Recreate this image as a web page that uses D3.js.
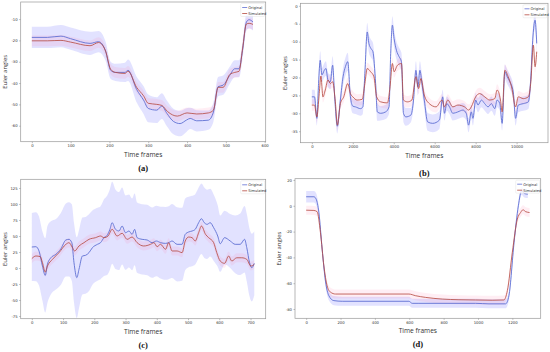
<!DOCTYPE html>
<html>
<head>
<meta charset="utf-8">
<script src="https://cdn.jsdelivr.net/npm/d3@7"></script>
<style>
  body { margin: 0; background: #fff; }
  svg { display: block; }
</style>
</head>
<body>
<svg id="chart" width="550" height="352"></svg>
<script>
// ---------------- data ----------------
const seriesNames = ["Original", "Simulated"];

// (a)
const aOrigFrames = [0, 40, 75, 100, 150, 172, 190, 203, 215, 240, 248, 270, 288, 300, 322, 335, 348, 365, 382, 399, 408, 425, 455, 468, 480, 493, 510, 523, 534, 543, 553, 560, 570];
const aOrig = [-18.6, -18.6, -18, -19.2, -21.4, -20.6, -25, -34, -35, -35, -34, -43, -48, -51.9, -52.7, -50.8, -54.2, -58, -59, -57.3, -56.6, -57.7, -57.4, -53.6, -41.7, -41, -36.4, -33.3, -33.3, -24.7, -11.4, -10.3, -11.4];
const aOrigStd = [5, 5, 5.2, 5.2, 5.4, 5, 4.5, 4, 4, 4.5, 5, 6, 6.5, 6.5, 6, 6, 6, 6, 6, 5.5, 5, 5, 4.5, 4.5, 4.5, 4.5, 4, 4, 4, 4, 4, 4, 4];
const aSimFrames = [0, 40, 75, 100, 150, 172, 190, 203, 215, 240, 248, 270, 288, 300, 322, 335, 350, 375, 400, 425, 455, 468, 480, 493, 510, 523, 534, 543, 553, 560, 570];
const aSim = [-20.2, -20.2, -20, -20.8, -22.5, -21, -25, -33.5, -35, -35.5, -34.5, -42, -46, -49.5, -50, -50.5, -53.4, -55.5, -54, -54.5, -54, -52.7, -42, -42, -36, -35, -34.5, -24, -12.3, -12, -12.5];
const aSimStd = [2.5, 2.5, 2.5, 2.5, 2.5, 2.5, 2.5, 2.5, 2.5, 2.5, 2.5, 2.5, 2.5, 2.5, 2.5, 2.5, 2.5, 2.5, 2.5, 2.5, 2.5, 2.5, 2.5, 2.5, 2.5, 2.5, 2.5, 2.5, 2.5, 2.5, 2.5];
const aXTicks = [0, 100, 200, 300, 400, 500, 600];
const aYTicks = [-60, -50, -40, -30, -20, -10];

// (b)
const bOrigFrames = [0, 131, 246, 328, 410, 492, 607, 689, 787, 902, 1016, 1115, 1246, 1393, 1525, 1639, 1754, 1885, 2000, 2131, 2377, 2492, 2590, 2705, 2787, 2885, 2984, 3115, 3197, 3361, 3607, 3770, 3852, 3934, 4016, 4131, 4262, 4377, 4475, 4590, 4836, 4967, 5082, 5180, 5279, 5377, 5492, 5656, 5902, 6230, 6393, 6475, 6590, 6721, 6885, 7131, 7377, 7541, 7656, 7787, 7869, 8000, 8115, 8279, 8443, 8607, 8770, 8934, 9049, 9180, 9295, 9426, 9541, 9672, 9836, 9951, 10082, 10328, 10574, 10689, 10787, 10902, 10984];
const bOrig = [-25.4, -25.4, -31.4, -21.7, -15.2, -19.3, -18, -17.5, -20.7, -21.2, -16.6, -25.4, -33.6, -26.3, -19.8, -17, -15.6, -25.4, -28, -28.2, -28.7, -28.2, -18.9, -7.3, -10.5, -11.9, -12.8, -21.7, -29.6, -30, -29.6, -28.2, -13.3, -5.4, -9.1, -12.4, -14.2, -15.6, -30, -31, -30.5, -26.3, -18, -22.6, -18, -21.7, -26.3, -32.4, -32.8, -31.9, -25.4, -30, -27.3, -28.2, -30, -29.6, -29.1, -30, -33.3, -29.6, -31.4, -26.3, -27.7, -26.3, -27.3, -28.2, -27.3, -28.7, -26.3, -27.3, -32.8, -18.4, -19.8, -21.2, -24, -31.4, -27.7, -27.3, -26.8, -20.7, -9.6, -4, -10.5];
const bOrigStd = [2, 2, 2, 2.5, 2.5, 2, 2, 2, 2, 2, 2.5, 2, 2, 2, 2.5, 2.5, 2.5, 2, 2, 2, 2, 2, 2.5, 2.5, 2.5, 2.5, 2.5, 2.5, 2.5, 2, 2, 2, 2.5, 2.5, 2.5, 2.5, 2.5, 2.5, 2.5, 2.5, 2, 2, 2.5, 2.5, 2.5, 2.5, 2.5, 2.5, 2.5, 2.5, 2, 2, 2, 2, 2, 2, 2, 2, 2, 2, 2, 2, 2, 2, 2, 2, 2, 2, 2, 2, 2, 2, 2, 2, 2, 2, 2, 2, 2, 2.5, 2.5, 2.5, 2.5];
const bSimFrames = [0, 131, 246, 361, 443, 541, 656, 787, 902, 1016, 1148, 1246, 1393, 1557, 1754, 1885, 2000, 2213, 2459, 2590, 2705, 2869, 3033, 3164, 3361, 3689, 3820, 3934, 4016, 4180, 4377, 4475, 4672, 4885, 5082, 5213, 5328, 5492, 5738, 6066, 6361, 6475, 6639, 6885, 7131, 7459, 7656, 7787, 8000, 8197, 8443, 8689, 8934, 9049, 9213, 9295, 9426, 9590, 9754, 9951, 10082, 10328, 10574, 10689, 10820, 10902, 10984];
const bSim = [-27.7, -27.7, -31, -24.5, -19.6, -25.4, -23.5, -20.7, -21.7, -21.2, -26.8, -33.3, -27.3, -25.4, -21.7, -24.5, -25.4, -26.3, -26.1, -21.7, -17.5, -18.4, -19.8, -25.4, -26.8, -27.1, -22.6, -16.1, -18.4, -16.6, -16.1, -26.3, -26.8, -26.3, -19.8, -23.1, -20.3, -24.9, -27.3, -28.2, -26.3, -28.2, -26.3, -28.2, -27.7, -28.2, -29.1, -28.2, -25.4, -24.5, -25.4, -26.3, -25.9, -23.5, -26.3, -29.6, -18, -19.8, -22.6, -28.2, -25.4, -25.9, -25.4, -21.7, -11, -17, -12.8];
const bSimStd = bSim.map(() => 1.6);
const bXTicks = [0, 2000, 4000, 6000, 8000, 10000];
const bYTicks = [-35, -30, -25, -20, -15, -10, -5, 0];

// (c)
const cOrigFrames = [0, 13, 23, 34, 43, 50, 61, 77, 93, 109, 119, 128, 135, 144, 151, 162, 172, 183, 194, 210, 220, 231, 241, 250, 257, 268, 279, 289, 300, 311, 321, 329, 337, 353, 369, 385, 399, 412, 428, 438, 449, 465, 481, 491, 502, 513, 523, 534, 543, 552, 561, 571, 582, 595, 603, 617, 635, 651, 667, 681, 688, 697, 704, 712];
const cOrig = [32.8, 33.3, 26.6, 3, -11.5, 5.7, 16, 21.4, 30, 43.8, 44.8, 39.6, 8.3, -15, -2, 18.8, 19.8, 24, 31.8, 37, 39.6, 47.4, 51, 60.4, 70.8, 60.4, 57.8, 65.6, 55.2, 57.8, 52.6, 60.4, 47.4, 44.8, 43.8, 39.6, 42.2, 39.6, 38.5, 39.6, 42.2, 37, 37, 52.6, 56.3, 57.8, 60.4, 70.8, 77, 70.8, 68.2, 70.8, 63, 50, 38, 47.4, 42.2, 37, 37, 44.8, 31.8, 8.3, 0.5, 7.3];
const cOrigStd = [53, 54, 54, 54, 58, 60, 57, 55, 56, 57, 58, 60, 62, 63, 61, 60, 60, 60, 58, 57, 57, 60, 62, 63, 64, 62, 61, 60, 58, 57, 56, 56, 55, 55, 55, 55, 55, 56, 57, 57, 58, 58, 57, 56, 55, 55, 55, 55, 55, 55, 54, 53, 52, 48, 44, 42, 42, 45, 48, 52, 53, 53, 53, 50];
const cSimFrames = [0, 13, 27, 34, 43, 50, 66, 87, 109, 119, 130, 137, 151, 167, 183, 204, 220, 231, 244, 257, 273, 289, 305, 321, 337, 358, 380, 391, 401, 412, 428, 438, 449, 465, 481, 491, 502, 513, 523, 534, 543, 556, 566, 582, 592, 603, 617, 630, 640, 656, 672, 688, 701, 712];
const cSim = [14.6, 18.8, 17.7, 8.3, -6.3, 3.1, 13.5, 24, 37, 39.6, 31.8, 26.6, 34.4, 39.6, 44.8, 47.4, 50, 47.4, 50, 60.4, 50, 54.2, 44.8, 48.4, 39.6, 34.4, 37, 39.6, 33.3, 37, 29.2, 39.6, 26.6, 26.6, 24, 42.2, 48.4, 47.4, 42.2, 55.2, 65.6, 52.6, 47.4, 39.6, 24, 10.9, 7.3, 18.8, 10.9, 16, 16, 13.5, 3.1, 5.7];
const cSimStd = cSim.map(() => 7);
const cXTicks = [0, 100, 200, 300, 400, 500, 600, 700];
const cYTicks = [-75, -50, -25, 0, 25, 50, 75, 100, 125];

// (d)
const dOrigFrames = [0, 45, 58, 74, 93, 113, 132, 161, 210, 598, 617, 656, 986, 1064, 1161, 1180, 1210, 1235, 1254, 1270, 1290];
const dOrig = [7, 7, 5.2, -5.2, -33.5, -59, -69.7, -73.5, -74, -74, -75.6, -75.6, -75.6, -76, -76, -69.7, -28.4, 0, 11.6, 9.5, 9];
const dOrigStd = [4.5, 4.5, 4.5, 4, 3.5, 3.5, 3.5, 3.5, 3.5, 3.5, 3.5, 3.5, 3.5, 3.5, 3.5, 3.5, 3.5, 3.5, 3, 3, 3];
const dSimFrames = [0, 45, 64, 83, 103, 122, 142, 171, 598, 637, 695, 792, 889, 986, 1083, 1151, 1171, 1200, 1229, 1248, 1262, 1278, 1300];
const dSim = [-3.4, -3.6, -4.6, -20.6, -46.5, -62, -67, -68.4, -68.4, -69.7, -71, -72.3, -72.8, -73, -73.2, -73, -65.8, -36, -10.3, -5.2, -3.1, -4.6, -5.2];
const dSimStd = dSim.map(() => 3.5);
const dXTicks = [0, 200, 400, 600, 800, 1000, 1200];
const dYTicks = [-80, -60, -40, -20, 0, 20];

// ---------------- layout ----------------
const svg = d3.select("#chart");
const blueLine = "#5f6fd3", redLine = "#b5493f";
const blueBand = "rgba(110,110,255,0.2)", redBand = "rgba(255,120,170,0.13)";

const panels = [
  { tag: "(a)", box: [20.7, 2, 265.7, 141.7], xDom: [-28.7, 602.7], yDom: [-67.5, -2],
    orig: [aOrigFrames, aOrig, aOrigStd], sim: [aSimFrames, aSim, aSimStd], xt: aXTicks, yt: aYTicks, capY: 168 },
  { tag: "(b)", box: [300.6, 3.3, 548, 142.7], xDom: [-549, 11534], yDom: [-38.2, 0.7],
    orig: [bOrigFrames, bOrig, bOrigStd], sim: [bSimFrames, bSim, bSimStd], xt: bXTicks, yt: bYTicks, capY: 173 },
  { tag: "(c)", box: [20.7, 179.3, 265.7, 318.7], xDom: [-35.6, 748.6], yDom: [-79.2, 138.6],
    orig: [cOrigFrames, cOrig, cOrigStd], sim: [cSimFrames, cSim, cSimStd], xt: cXTicks, yt: cYTicks, capY: 345 },
  { tag: "(d)", box: [295, 178.7, 540.7, 318.3], xDom: [-65, 1365], yDom: [-87.2, 21],
    orig: [dOrigFrames, dOrig, dOrigStd], sim: [dSimFrames, dSim, dSimStd], xt: dXTicks, yt: dYTicks, capY: 344 }
];

function drawPanel(p) {
  const [x0, y0, x1, y1] = p.box;
  const x = d3.scaleLinear().domain(p.xDom).range([x0, x1]);
  const y = d3.scaleLinear().domain(p.yDom).range([y1, y0]);
  const g = svg.append("g");

  const clipId = "clip" + p.tag.replace(/\W/g, "");
  g.append("clipPath").attr("id", clipId)
    .append("rect").attr("x", x0).attr("y", y0).attr("width", x1 - x0).attr("height", y1 - y0);
  const plot = g.append("g").attr("clip-path", `url(#${clipId})`);

  const toPts = ([f, v, s]) => f.map((fr, i) => ({ f: fr, v: v[i], s: s[i] }));
  const orig = toPts(p.orig), sim = toPts(p.sim);

  const area = d3.area().curve(d3.curveMonotoneX)
    .x(d => x(d.f)).y0(d => y(d.v - d.s)).y1(d => y(d.v + d.s));
  const line = d3.line().curve(d3.curveMonotoneX)
    .x(d => x(d.f)).y(d => y(d.v));

  plot.append("path").attr("d", area(orig)).attr("fill", blueBand);
  plot.append("path").attr("d", area(sim)).attr("fill", redBand);
  plot.append("path").attr("d", line(orig)).attr("fill", "none")
    .attr("stroke", blueLine).attr("stroke-width", 0.9);
  plot.append("path").attr("d", line(sim)).attr("fill", "none")
    .attr("stroke", redLine).attr("stroke-width", 0.9).attr("stroke-opacity", 0.9);

  // axes (plain integers, hyphen minus like the figure)
  const fmt = d => String(d);
  const xa = g.append("g").attr("transform", `translate(0,${y1})`)
    .call(d3.axisBottom(x).tickValues(p.xt).tickFormat(fmt).tickSize(1.5).tickPadding(1.5));
  const ya = g.append("g").attr("transform", `translate(${x0},0)`)
    .call(d3.axisLeft(y).tickValues(p.yt).tickFormat(fmt).tickSize(1.5).tickPadding(1.5));
  [xa, ya].forEach(a => {
    a.select(".domain").remove();
    a.selectAll("line").attr("stroke", "#555").attr("stroke-width", 0.4);
    a.selectAll("text").attr("font-family", "DejaVu Sans").attr("font-size", 3.8).attr("fill", "#333");
  });

  // frame
  g.append("rect").attr("x", x0).attr("y", y0).attr("width", x1 - x0).attr("height", y1 - y0)
    .attr("fill", "none").attr("stroke", "#999").attr("stroke-width", 0.7);

  // labels
  const cx = (x0 + x1) / 2;
  g.append("text").attr("x", cx).attr("y", y1 + 15).attr("text-anchor", "middle")
    .attr("font-family", "Open Sans").attr("font-size", 6.6).attr("fill", "#333").text("Time frames");
  g.append("text").attr("transform", `translate(${x0 - 14},${(y0 + y1) / 2}) rotate(-90)`)
    .attr("text-anchor", "middle").attr("font-family", "Open Sans").attr("font-size", 6)
    .attr("fill", "#333").text("Euler angles");
  g.append("text").attr("x", cx).attr("y", p.capY + 3).attr("text-anchor", "middle")
    .attr("font-family", "Liberation Serif").attr("font-weight", "bold").attr("font-size", 8.5)
    .attr("fill", "#111").text(p.tag);

  // legend
  const lx = x1 - 25, ly = y0 + 1.5;
  g.append("rect").attr("x", lx).attr("y", ly).attr("width", 24).attr("height", 13)
    .attr("fill", "#fff").attr("fill-opacity", 0.8).attr("stroke", "#ddd").attr("stroke-width", 0.4).attr("rx", 1);
  seriesNames.forEach((name, i) => {
    const yy = ly + 4 + i * 6;
    g.append("line").attr("x1", lx + 1.5).attr("x2", lx + 6.5).attr("y1", yy).attr("y2", yy)
      .attr("stroke", i === 0 ? blueLine : redLine).attr("stroke-width", 0.8);
    g.append("text").attr("x", lx + 7.5).attr("y", yy + 1.3)
      .attr("font-family", "DejaVu Sans").attr("font-size", 3.6).attr("fill", "#333").text(name);
  });
}

panels.forEach(drawPanel);
</script>
</body>
</html>
